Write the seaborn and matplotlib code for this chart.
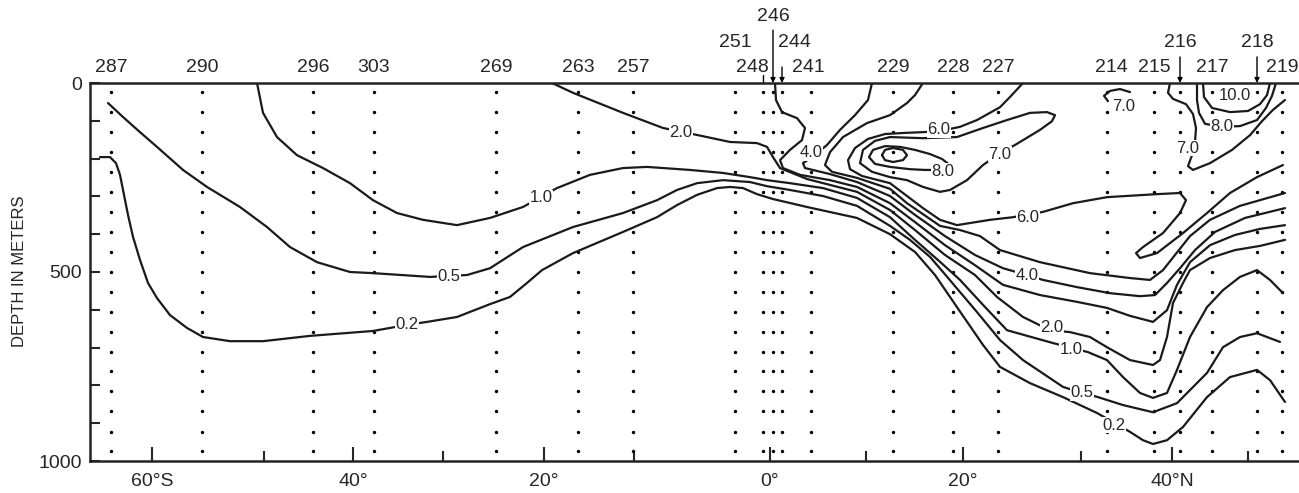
import numpy as np
import pandas as pd
import seaborn as sns
import matplotlib.pyplot as plt

# x = distance along the section (arbitrary units), depth in metres

# stations on the section
station_ids = ["287", "290", "296", "303", "269", "263", "257", "251", "248", "246", "244",
               "241", "229", "228", "227", "214", "215", "216", "217", "218", "219"]
station_x = [2.1, 11.2, 22.3, 28.4, 40.6, 48.8, 54.3, 64.5, 67.3, 68.3, 69.2,
             72.1, 80.3, 86.3, 90.8, 101.7, 106.4, 109.0, 112.2, 116.7, 119.2]
sample_depths = [25, 78, 130, 183, 236, 289, 341, 394, 447, 500, 552, 605, 658,
                 711, 763, 816, 869, 922, 974]

# latitude ticks along the section
lat_major_x = [6.2, 26.3, 45.4, 68.0, 87.3, 108.2]
lat_major_labels = ["60°S", "40°", "20°", "0°", "20°", "40°N"]
lat_minor_x = [17.4, 35.3, 54.4, 77.6, 99.1, 115.8]

# contour lines
c02_x = [1.0, 2.0, 2.6, 3.0, 3.4, 3.8, 4.3, 5.0, 5.8, 6.7, 8.0, 9.7, 11.3, 14.0, 17.3, 22.0,
         28.3, 31.7, 33.7, 36.7, 40.0, 42.0, 43.7, 45.2, 48.3, 53.3, 56.7, 58.7, 60.7, 62.7,
         64.0, 65.3, 66.7, 68.3, 71.7, 76.7, 80.0, 82.5, 84.5, 86.7, 89.3, 91.0, 94.0, 97.3,
         100.7, 102.5, 104.0, 105.3, 106.3, 107.7, 109.3, 111.7, 114.0, 116.7, 118.0, 119.5]
c02_d = [196, 196, 212, 243, 296, 349, 407, 468, 529, 569, 614, 648, 672, 683, 683, 669,
         656, 640, 632, 619, 585, 566, 529, 495, 450, 394, 355, 323, 296, 278,
         275, 278, 294, 307, 328, 357, 400, 447, 508, 593, 693, 751, 794, 831,
         873, 900, 923, 945, 955, 945, 910, 831, 778, 759, 786, 844]

c05_x = [1.8, 3.3, 5.0, 6.7, 9.3, 11.7, 15.0, 17.7, 20.0, 22.7, 26.0, 28.3, 34.0, 37.7, 40.0,
         43.3, 48.3, 53.3, 56.7, 58.7, 60.7, 63.3, 66.0, 67.7, 70.0, 73.3, 76.7, 80.0, 82.0,
         84.0, 85.3, 87.0, 88.7, 91.0, 93.3, 97.3, 99.0, 100.8, 103.3, 106.3, 108.7, 111.7,
         113.3, 115.0, 116.7, 119.0]
c05_d = [53, 90, 130, 169, 230, 275, 328, 381, 434, 474, 500, 503, 513, 508, 490,
         434, 381, 344, 310, 283, 265, 257, 262, 273, 283, 299, 325, 378, 415,
         460, 500, 553, 606, 680, 733, 804, 818, 831, 852, 871, 847, 767,
         699, 672, 662, 685]

c10_x = [16.7, 17.3, 18.7, 20.7, 23.3, 26.0, 28.3, 30.7, 33.3, 36.7, 40.0, 43.3, 46.7, 50.0,
         53.3, 55.7, 60.0, 63.3, 66.0, 67.7, 70.0, 73.3, 76.7, 80.0, 82.5, 85.0, 87.0, 89.3,
         91.7, 96.3, 99.8, 101.7, 103.3, 105.0, 106.3, 107.7, 108.7, 110.0, 111.7, 113.3,
         115.0, 116.7, 118.0, 119.3]
c10_d = [0, 79, 143, 191, 225, 265, 310, 344, 362, 376, 357, 328, 278, 243,
         225, 222, 230, 238, 249, 257, 265, 278, 304, 355, 415, 473, 521, 587,
         654, 688, 712, 733, 778, 820, 833, 820, 759, 672, 593, 548,
         513, 495, 521, 556]

c20_x = [46.2, 48.3, 53.3, 57.3, 60.8, 64.0, 66.7, 67.7, 68.3, 69.0, 71.7, 76.7, 80.0, 82.5,
         85.5, 88.5, 90.7, 93.3, 96.0, 98.0, 100.0, 101.7, 104.0, 106.3, 107.0, 107.7, 108.3,
         109.3, 110.0, 112.0, 114.5, 117.0, 119.5]
c20_d = [0, 26, 79, 119, 138, 156, 159, 169, 196, 225, 254, 288, 336, 389,
         455, 508, 566, 619, 654, 659, 672, 699, 733, 746, 733, 672, 582,
         529, 495, 463, 442, 431, 415]

c30_x = [68.5, 68.6, 69.2, 70.7, 71.5, 71.2, 70.0, 69.0, 69.3, 71.0, 74.0, 76.7, 80.0, 82.5,
         85.5, 88.5, 91.3, 95.0, 98.7, 101.7, 104.0, 106.3, 107.7, 108.7, 110.0, 112.0,
         114.5, 117.0, 119.5]
c30_d = [0, 45, 77, 93, 119, 151, 177, 204, 225, 243, 257, 275, 318, 368,
         429, 482, 534, 561, 579, 595, 616, 632, 601, 534, 474, 429,
         402, 386, 376]

c40_x = [78.2, 77.8, 76.5, 75.0, 73.7, 72.2, 71.3, 71.5, 74.0, 76.7, 80.0, 82.5, 85.5, 88.5,
         91.3, 93.7, 95.3, 98.7, 102.0, 105.0, 106.5, 107.7, 109.0, 110.5, 112.5, 115.5, 119.5]
c40_d = [0, 45, 85, 124, 164, 196, 212, 225, 241, 262, 299, 349, 405, 455,
         490, 508, 521, 540, 556, 564, 561, 529, 490, 442, 394, 357, 331]

c50_x = [83.3, 82.5, 81.7, 80.0, 77.7, 75.3, 74.0, 73.5, 74.2, 76.7, 80.0, 81.7, 83.3, 85.0,
         87.0, 89.0, 91.0, 95.0, 100.0, 104.0, 106.0, 107.3, 108.5, 110.0, 112.0, 115.0, 119.5]
c50_d = [0, 32, 53, 85, 106, 143, 183, 217, 235, 251, 280, 318, 347, 378,
         389, 405, 442, 474, 503, 516, 521, 495, 455, 405, 362, 325, 291]

c60_x = [93.3, 92.0, 91.0, 88.7, 87.0, 85.0, 83.3, 81.5, 79.5, 77.8, 76.5, 75.8, 76.0, 77.2,
         80.0, 81.7, 83.3, 85.0, 86.7, 90.0, 92.3, 95.3, 98.3, 101.7, 106.7, 109.0, 109.6,
         109.0, 107.3, 105.3, 104.6, 105.0, 106.7, 109.3, 111.7, 114.0, 116.7, 119.3]
c60_d = [0, 37, 64, 98, 116, 127, 130, 132, 135, 148, 172, 204, 228, 246,
         265, 299, 331, 362, 376, 362, 355, 341, 318, 302, 294, 291, 310,
         344, 397, 434, 450, 463, 450, 397, 344, 291, 249, 217]

c70a_x = [80.0, 83.3, 86.7, 89.3, 91.7, 94.0, 95.7, 96.5, 96.2, 95.0, 92.5, 91.0, 89.3, 87.7,
          86.0, 85.0, 83.3, 81.7, 80.0, 78.2, 77.0, 77.3, 78.5, 80.0]
c70a_d = [143, 146, 143, 119, 98, 79, 77, 85, 101, 124, 164, 185, 217, 257,
          283, 288, 275, 257, 249, 235, 212, 177, 153, 143]

c70b_x = [101.8, 101.4, 102.0, 103.0, 104.0]
c70b_d = [48, 34, 21, 16, 24]

c70c_x = [108.0, 107.8, 108.3, 109.6, 110.3, 110.6, 110.5, 110.2, 109.8, 110.3, 112.0, 114.2,
          116.0, 117.2, 118.3, 119.5]
c70c_d = [0, 26, 42, 56, 82, 119, 156, 191, 220, 230, 212, 177,
          138, 101, 71, 45]

c80a_x = [86.0, 85.2, 84.0, 82.5, 81.0, 79.5, 78.3, 77.9, 78.5, 80.0, 82.0, 83.5, 85.5, 86.0]
c80a_d = [217, 201, 188, 177, 169, 167, 177, 196, 214, 222, 228, 230, 230, 217]

c80b_x = [110.7, 110.7, 110.9, 111.5, 113.2, 115.0, 116.7, 117.6, 118.2, 118.6]
c80b_d = [0, 45, 79, 108, 116, 114, 98, 66, 34, 0]

c90_x = [79.2, 79.5, 80.3, 81.3, 81.7, 81.3, 80.3, 79.5, 79.2]
c90_d = [191, 177, 172, 177, 191, 204, 209, 204, 191]

c100_x = [111.3, 111.4, 112.2, 114.0, 115.8, 117.0, 117.7, 118.0]
c100_d = [0, 37, 66, 77, 74, 56, 32, 0]

# contour labels
clab_text = ["0.2", "0.5", "1.0", "2.0", "4.0", "6.0", "8.0", "7.0", "6.0", "7.0", "7.0",
             "10.0", "8.0", "4.0", "2.0", "1.0", "0.5", "0.2"]
clab_x = [31.7, 35.9, 45.1, 59.1, 72.1, 84.9, 85.3, 91.0, 93.8, 103.4, 109.8,
          114.5, 113.2, 93.7, 96.2, 98.1, 99.2, 102.4]
clab_d = [640, 513, 304, 132, 185, 124, 233, 188, 355, 61, 172,
          32, 116, 508, 646, 706, 820, 905]

lines = [("c02", c02_x, c02_d), ("c05", c05_x, c05_d), ("c10", c10_x, c10_d),
         ("c20", c20_x, c20_d), ("c30", c30_x, c30_d), ("c40", c40_x, c40_d),
         ("c50", c50_x, c50_d), ("c60", c60_x, c60_d), ("c70a", c70a_x, c70a_d),
         ("c70b", c70b_x, c70b_d), ("c70c", c70c_x, c70c_d), ("c80a", c80a_x, c80a_d),
         ("c80b", c80b_x, c80b_d), ("c90", c90_x, c90_d), ("c100", c100_x, c100_d)]
df = pd.concat([pd.DataFrame({"dist": x, "depth": d, "line": name}) for name, x, d in lines])

grid = pd.DataFrame([(x, d) for x in station_x for d in sample_depths], columns=["dist", "depth"])

sns.set_style("white")
plt.rcParams["font.family"] = ["Liberation Sans", "DejaVu Sans"]

fig = plt.figure(figsize=(12.99, 4.93), dpi=100)
ax = fig.add_axes([90 / 1299, 32 / 493, 1209 / 1299, 378 / 493])

sns.scatterplot(data=grid, x="dist", y="depth", s=6, color="black", linewidth=0, ax=ax)
sns.lineplot(data=df, x="dist", y="depth", units="line", estimator=None, sort=False,
             color="#1a1a1a", lw=1.6, ax=ax)

for t, x, d in zip(clab_text, clab_x, clab_d):
    boxed = t not in ("10.0",) and not (t == "7.0" and x > 103 and x < 104)
    ax.text(x, d, t, ha="center", va="center", fontsize=12, zorder=5,
            bbox=dict(fc="white", ec="none", pad=0.6) if boxed else None)

# station numbers above the section
label_row = {"251": 1, "244": 1, "216": 1, "218": 1, "246": 2}
label_shift = {"248": -1.1, "244": 1.2, "241": -0.3, "214": 0.4}
row_y = [1.042, 1.108, 1.175]
trans = ax.get_xaxis_transform()
for sid, x in zip(station_ids, station_x):
    r = label_row.get(sid, 0)
    ax.text(x + label_shift.get(sid, 0), row_y[r], sid, transform=trans, ha="center",
            va="center", fontsize=14, clip_on=False)

arrow_from = {"246": 1.14, "244": 1.042, "216": 1.069, "218": 1.069}
for sid, x in zip(station_ids, station_x):
    if sid in arrow_from:
        ax.annotate("", xy=(x, 1.0), xycoords=trans, xytext=(x, arrow_from[sid]),
                    textcoords=trans,
                    arrowprops=dict(arrowstyle="-|>", lw=1.0, color="black",
                                    mutation_scale=7, shrinkA=0, shrinkB=0))
    if sid == "248":
        ax.plot([x, x], [1.0, 1.022], transform=trans, color="black", lw=1.0, clip_on=False)

ax.set_xlim(0, 120.9)
ax.set_ylim(1000, 0)
ax.set_xticks(lat_major_x, lat_major_labels)
ax.set_xticks(lat_minor_x, minor=True)
ax.set_yticks([0, 500, 1000], ["0", "500", "1000"])
ax.set_yticks([100, 200, 300, 400, 600, 700, 800, 900], minor=True)
ax.tick_params(axis="x", which="major", direction="in", length=10, width=1.5,
               labelsize=14, pad=9, bottom=True)
ax.tick_params(axis="x", which="minor", direction="in", length=7, width=1.5, bottom=True)
ax.tick_params(axis="y", which="both", direction="in", length=7, width=1.5,
               labelsize=14, pad=6, left=True)
ax.set_xlabel("")
ax.set_ylabel("")
for side in ["top", "left", "bottom"]:
    ax.spines[side].set_linewidth(1.8)
    ax.spines[side].set_color("#222222")
ax.spines["right"].set_visible(False)

fig.text(20 / 1299, 0.45, "DEPTH IN METERS", rotation=90, ha="center", va="center",
         fontsize=12)

fig.savefig("out.png", dpi=100)
